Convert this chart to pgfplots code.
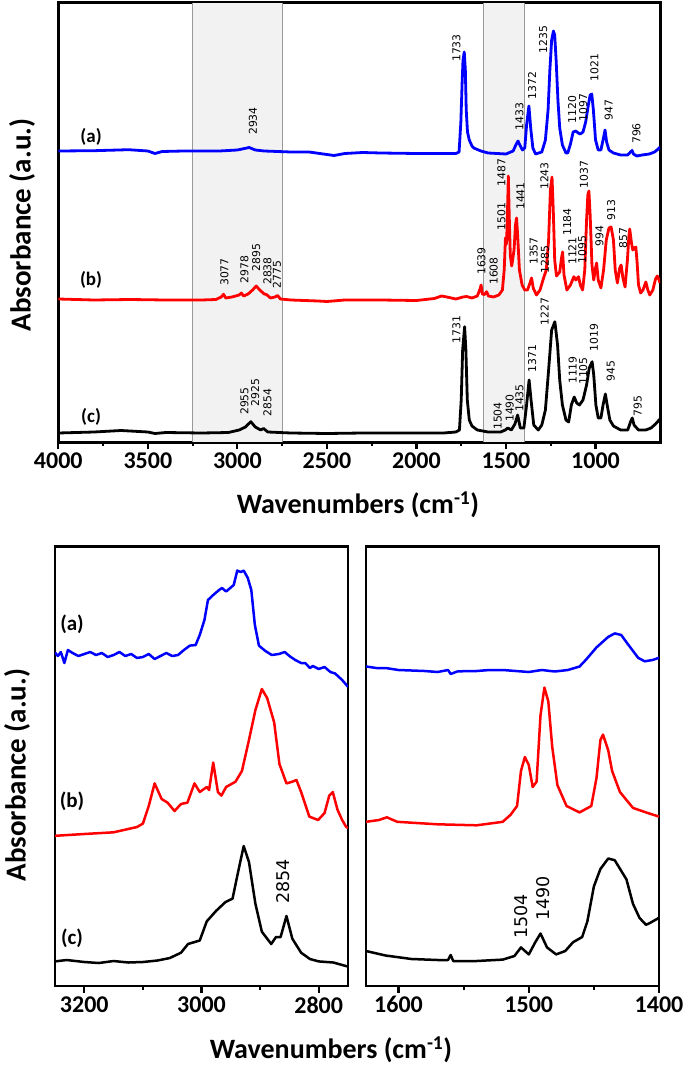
\documentclass[border=0pt]{standalone}
\usepackage{pgfplots}
\pgfplotsset{compat=1.18}
\usepackage{fontspec}
\setmainfont{Carlito}
\newfontfamily\peakfont{DejaVu Sans}

\pgfplotsset{
  spec/.style={
    scale only axis, x dir=reverse,
    ymin=0, ymax=439, ytick=\empty,
    xtick pos=bottom, tick align=outside,
    axis line style={line width=3pt},
    major tick length=7pt, minor tick length=4pt,
    every tick/.append style={line width=2.2pt, black},
    tick label style={font=\fontsize{24}{24}\selectfont\bfseries},
    /pgf/number format/1000 sep={},
    /pgf/number format/assume math mode=true,
  },
  curve/.style={line width=2.8pt, line join=round},
  bcurve/.style={line width=2.5pt, line join=round},
}
\newcommand{\pk}[4][10.8]{\node[rotate=90, anchor=west, inner sep=0pt,
  font=\peakfont\fontsize{#1}{#1}\selectfont] at (axis cs:#2,#3) {#4};}
\newcommand{\smp}[4][19]{\node[font=\fontsize{#1}{#1}\selectfont\bfseries]
  at (axis cs:#2,#3) {#4};}

\begin{document}
\begin{tikzpicture}[x=1pt,y=1pt]
\useasboundingbox (0,0) rectangle (685,-1067);

% ---------------- top panel: full spectra ----------------
\begin{axis}[spec, at={(58.3pt,-442pt)}, anchor=south west,
  width=601.7pt, height=439pt,
  xmin=640, xmax=4000, xtick={1000,1500,...,4000}, minor x tick num=1]

\fill[black!5] (axis cs:3250,0) rectangle (axis cs:2750,439);
\fill[black!5] (axis cs:1625,0) rectangle (axis cs:1400,439);
\draw[black!40, line width=0.8pt] (axis cs:3250,0) -- (axis cs:3250,439)
  (axis cs:2750,0) -- (axis cs:2750,439)
  (axis cs:1625,0) -- (axis cs:1625,439)
  (axis cs:1400,0) -- (axis cs:1400,439);

% (a)
\addplot[curve, blue] coordinates {
(4000,291) (3800,291.3) (3607,292.3) (3500,291) (3460,288.5) (3420,290.5)
(3300,291) (3100,291) (3000,292) (2960,293.5) (2934,294.5) (2900,292)
(2850,291) (2700,290) (2600,290) (2500,287.5) (2460,286.5) (2400,288.5)
(2300,289.5) (2200,289) (2000,288.5) (1850,288.5) (1780,288.5) (1762,290)
(1752,320) (1745,359) (1740,382) (1733,390) (1727,372) (1722,332)
(1715,310) (1705,302) (1690,296) (1680,294) (1640,291) (1600,289)
(1500,288) (1460,291) (1445,297) (1433,301) (1420,296) (1408,292)
(1395,294) (1385,317) (1372,336) (1362,314) (1350,294) (1335,288)
(1300,290) (1280,302) (1265,332) (1255,372) (1245,402) (1235,411)
(1228,407) (1220,382) (1210,342) (1200,314) (1185,297) (1165,289)
(1155,289) (1140,298) (1125,310) (1110,311) (1097,309) (1085,308)
(1070,310) (1055,320) (1040,337) (1030,347) (1021,348) (1012,332)
(1000,302) (985,292) (970,292) (958,302) (947,312) (938,300)
(925,292) (900,289) (860,287) (820,287) (805,290) (796,291.5)
(788,288) (770,286) (740,287) (700,288) (670,290) (650,293) (640,295)
};
% (b)
\addplot[curve, red] coordinates {
(4000,143) (3800,142) (3600,142.5) (3400,142) (3200,142) (3120,142.5)
(3090,145) (3077,147.7) (3065,144) (3030,145) (2990,147) (2978,149)
(2965,146) (2940,148) (2915,152) (2895,156) (2875,152) (2850,148)
(2838,147.5) (2815,144) (2790,145) (2775,146.5) (2760,143) (2700,142)
(2550,141) (2500,140.5) (2400,142) (2200,142) (2000,141.5) (1900,143.5)
(1860,146) (1830,145) (1780,143) (1740,145) (1720,145.5) (1690,144)
(1660,146) (1645,153) (1639,157) (1632,148) (1620,147.5) (1608,150.3)
(1598,146) (1570,145) (1540,147) (1520,152) (1510,172) (1503,204)
(1497,198) (1492,227) (1487,266) (1482,227) (1476,187) (1468,176)
(1455,192) (1447,217) (1441,224) (1435,207) (1425,172) (1410,157)
(1395,152) (1380,152) (1366,159) (1357,164) (1348,154) (1330,147)
(1310,152) (1290,164) (1275,172) (1262,202) (1252,252) (1243,265)
(1236,232) (1228,182) (1218,166) (1200,170) (1190,184) (1184,190)
(1176,167) (1160,152) (1140,157) (1121,165.3) (1110,162) (1095,165.3)
(1085,157) (1072,152) (1060,172) (1050,222) (1043,247) (1037,251)
(1030,227) (1020,177) (1010,162) (1000,174) (994,179) (985,162)
(970,154) (955,172) (940,202) (925,214) (913,215) (900,202)
(890,172) (878,159) (865,174) (857,177) (847,164) (835,155)
(822,182) (814,205) (809,213) (800,200) (792,192) (784,194)
(775,195) (768,180) (760,157) (748,149) (735,152) (719,160)
(708,152) (697,147) (680,152) (665,163) (655,166) (645,162) (640,159)
};
% (c)
\addplot[curve, black] coordinates {
(4000,9) (3800,10) (3650,11.5) (3500,10) (3460,8.5) (3400,9.5)
(3200,9) (3050,9.5) (2990,12) (2955,15) (2925,20.3) (2900,15)
(2870,12) (2854,13.5) (2830,10) (2700,9) (2500,8.5) (2300,9)
(2000,9) (1850,9) (1780,10) (1760,12) (1750,42) (1742,92)
(1731,115.3) (1724,92) (1716,42) (1705,22) (1690,16) (1660,12)
(1600,10) (1530,10) (1504,12) (1490,14) (1470,12) (1450,18)
(1435,27) (1420,14) (1400,14) (1385,37) (1371,62) (1360,42)
(1345,17) (1320,12) (1300,17) (1280,32) (1262,72) (1245,112)
(1227,120.3) (1212,97) (1200,62) (1185,37) (1165,22) (1150,20)
(1135,37) (1119,45) (1105,39) (1090,37) (1070,42) (1050,57)
(1035,74) (1019,80.3) (1010,67) (998,37) (985,24) (970,24)
(958,37) (945,48) (935,37) (920,22) (900,16) (860,12) (820,12)
(805,20) (795,24) (785,17) (760,12) (720,12) (690,14) (665,18)
(645,22) (640,23)
};

\smp{3817}{305.3}{(a)}
\smp{3817}{162}{(b)}
\smp{3817}{25.3}{(c)}

% peak labels (a)
\pk{2913}{307}{2934}
\pk{1777}{380}{1733}
\pk{1425}{311.3}{1433}
\pk{1354}{342.7}{1372}
\pk{1292}{388.7}{1235}
\pk{1130}{318.7}{1120}
\pk{1069}{320.3}{1097}
\pk{1006}{360.3}{1021}
\pk{926}{321.3}{947}
\pk{771}{298}{796}
% peak labels (b)
\pk{3072}{156}{3077}
\pk{2960}{158.7}{2978}
\pk{2895}{170.3}{2895}
\pk{2832}{157}{2838}
\pk{2779}{153.7}{2775}
\pk{1637}{167}{1639}
\pk{1568}{157}{1608}
\pk{1525}{211.3}{1501}
\pk{1525}{255.3}{1487}
\pk{1419}{232}{1441}
\pk{1345}{177}{1357}
\pk{1283}{168.7}{1285}
\pk{1285}{252}{1243}
\pk{1158}{206}{1184}
\pk{1130}{177}{1121}
\pk{1074}{178.7}{1095}
\pk{1065}{253.7}{1037}
\pk{978}{195.3}{994}
\pk{912}{221.3}{913}
\pk{845}{193.7}{857}
% peak labels (c)
\pk{2960}{27}{2955}
\pk{2900}{35.3}{2925}
\pk{2832}{25.3}{2854}
\pk{1777}{98.7}{1731}
\pk{1546}{12}{1504}
\pk{1479}{20}{1490}
\pk{1425}{30}{1435}
\pk{1354}{69.7}{1371}
\pk{1285}{116.3}{1227}
\pk{1127}{58}{1119}
\pk{1069}{57}{1105}
\pk{1009}{90.3}{1019}
\pk{916}{60.3}{945}
\pk{764}{25.3}{795}
\end{axis}

\node[rotate=90, font=\fontsize{29}{29}\selectfont\bfseries] at (22,-225) {Absorbance (a.u.)};
\node[font=\fontsize{28}{28}\selectfont\bfseries] at (358,-505) {Wavenumbers (cm\textsuperscript{-1})};

% ---------------- bottom left: 3250-2750 ----------------
\begin{axis}[spec, at={(55pt,-986pt)}, anchor=south west,
  width=293pt, height=439.5pt, ymax=439.5,
  xmin=2750, xmax=3250, xtick={2800,3000,3200}, minor x tick num=1,
  axis line style={line width=2.5pt}]
\addplot[bcurve, blue] coordinates {
(3250,333.4) (3245,330) (3240,334) (3234,323) (3228,336) (3220,333)
(3210,330) (3200,332) (3190,334) (3180,331) (3170,333) (3160,329)
(3150,331) (3140,334) (3130,330) (3120,332) (3110,328) (3100,329)
(3090,332) (3080,327) (3070,330) (3060,333) (3050,330) (3040,331)
(3030,336) (3020,340.4) (3010,341) (3003,351) (2995,366) (2989,386)
(2980,391) (2970,396) (2965,398) (2958,394.5) (2951,398) (2945,401)
(2939,415.4) (2933,414) (2928,415.4) (2921,408) (2915,396) (2909,361.3)
(2902,340.4) (2891,335) (2880,331) (2868,332) (2858,334) (2850,330)
(2840,326) (2830,323) (2823,323) (2815,318) (2810,320) (2800,317)
(2790,319) (2780,314) (2772,312.5) (2760,306) (2750,299.2)
};
\addplot[bcurve, red] coordinates {
(3250,150.2) (3200,152) (3150,153.7) (3110,159) (3100,162.4) (3090,180)
(3080,202.6) (3068,187) (3058,183.4) (3046,175) (3035,182) (3024,183.4)
(3012,202.6) (3003,194) (2991,199) (2987,196) (2980,223.5) (2972,194)
(2966,190.4) (2958,199) (2942,204.3) (2931,215) (2919,246) (2908,276)
(2897,297) (2888,288) (2876,263.6) (2867,222) (2855,202.6) (2845,204.3)
(2838,206) (2830,194) (2816,169.4) (2801,166) (2790,173) (2782,190.4)
(2776,194) (2768,176.4) (2760,166) (2753,159) (2750,158)
};
\addplot[bcurve, black] coordinates {
(3250,24.6) (3230,26) (3200,24) (3175,23) (3150,25) (3125,23.5)
(3100,24) (3075,25.5) (3054,28) (3035,33.3) (3023,42) (3003,45.5)
(2991,64.7) (2975,75.2) (2959,84) (2947,87.4) (2939,110) (2928,140)
(2919,124) (2908,82.2) (2897,54.3) (2881,42) (2873,49) (2865,49)
(2855,70) (2845,47.3) (2830,33.3) (2815,27) (2800,24.6) (2775,23.5)
(2750,19.4)
};
\smp[21]{3221}{361.3}{(a)}
\smp[21]{3221}{185}{(b)}
\smp[21]{3221}{47.3}{(c)}
\pk[17.5]{2860.6}{82.2}{2854}
\end{axis}

% ---------------- bottom right: 1625-1400 ----------------
\begin{axis}[spec, at={(366pt,-986pt)}, anchor=south west,
  width=293pt, height=439.5pt, ymax=439.5,
  xmin=1400, xmax=1625, xtick={1400,1500,1600}, minor x tick num=1,
  axis line style={line width=2.5pt}]
\addplot[bcurve, blue] coordinates {
(1625,319.5) (1617,318) (1610,318) (1600,316) (1590,315.5) (1580,315)
(1570,314) (1562,316) (1560,312) (1555,314.5) (1547,315) (1540,315)
(1530,316) (1520,316) (1510,315) (1500,314) (1490,316) (1480,314.5)
(1470,316) (1461,319.5) (1456,326.4) (1448,338.6) (1439,349.1)
(1434,352.6) (1429,351) (1424,342) (1416,328.2) (1411,324.7)
(1405,326) (1400,328.2)
};
\addplot[bcurve, red] coordinates {
(1625,164.2) (1615,166) (1609,168.7) (1601,164.2) (1570,161.7)
(1540,160.7) (1520,164.2) (1514,171.2) (1509,180) (1506,215)
(1503,229) (1500,221) (1497,199) (1494,204.3) (1491,270.6)
(1488,298.5) (1485,284.6) (1482,239.2) (1478,200.8) (1471,180)
(1461,173.6) (1452,180) (1448,208) (1445,246) (1443,251.4)
(1439,235.7) (1436,215) (1430,194) (1420,178.1) (1410,173.6)
(1400,169.4)
};
\addplot[bcurve, black] coordinates {
(1625,35) (1610,30.5) (1590,27) (1570,26) (1562,26) (1560,31)
(1558,25) (1540,25) (1520,26.4) (1511,30) (1506,38.6) (1500,31.6)
(1495,43.8) (1491,52.5) (1486,38.6) (1479,31.6) (1472,35)
(1466,43.8) (1459,49) (1455,64.7) (1450,99.6) (1445,117)
(1439,127.5) (1434,125.8) (1425,106.6) (1420,82.2) (1415,68.2)
(1410,61.2) (1407,63) (1400,68.2)
};
\pk[17.5]{1506}{47.3}{1504}
\pk[17.5]{1489.3}{65}{1490}
\end{axis}

\node[rotate=90, font=\fontsize{29}{29}\selectfont\bfseries] at (17,-775) {Absorbance (a.u.)};
\node[font=\fontsize{28}{28}\selectfont\bfseries] at (331,-1050) {Wavenumbers (cm\textsuperscript{-1})};
\end{tikzpicture}
\end{document}
